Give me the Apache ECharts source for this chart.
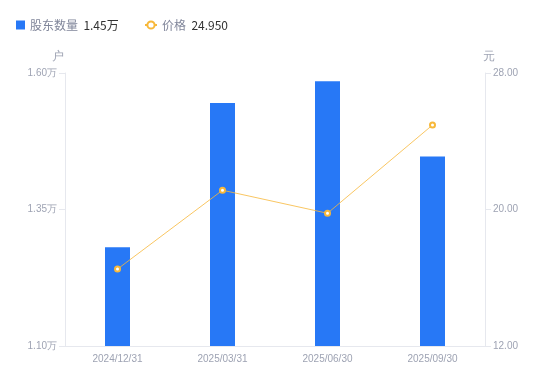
<!DOCTYPE html>
<html>
<head>
<meta charset="utf-8">
<script src="https://cdn.jsdelivr.net/npm/echarts@6/dist/echarts.min.js"></script>
<style>
  html, body { margin: 0; padding: 0; background: #fff; }
  #main { width: 550px; height: 381px; }
</style>
</head>
<body>
<div id="main"></div>
<script>
var dates = ['2024/12/31', '2025/03/31', '2025/06/30', '2025/09/30'];
var holders = [1.281, 1.545, 1.585, 1.447];   // 万户
var prices = [16.51, 21.13, 19.78, 24.95];    // 元
var latest = { '股东数量': '1.45万', '价格': '24.950' };

var labelColor = '#9ea3b3';
var lineColor = '#e6e8ee';

function legendText(name) {
    return '{n|' + name + '}  {v|' + latest[name] + '}';
}
var legendTextStyle = {
    fontFamily: 'Noto Sans CJK SC',
    rich: {
        n: { color: '#80869a', fontSize: 12 },
        v: { color: '#333', fontSize: 12 }
    }
};

var myChart = echarts.init(document.getElementById('main'));
myChart.setOption({
    animation: false,
    legend: [
        {
            left: 11,
            top: 14,
            itemWidth: 9,
            itemHeight: 9,
            itemGap: 6,
            formatter: legendText,
            textStyle: legendTextStyle,
            data: [{ name: '股东数量', icon: 'rect' }]
        },
        {
            left: 139,
            top: 14,
            itemWidth: 12,
            itemHeight: 9,
            formatter: legendText,
            textStyle: legendTextStyle,
            data: ['价格']
        }
    ],
    grid: { left: 65, right: 65, top: 73, bottom: 35 },
    xAxis: {
        type: 'category',
        data: dates,
        axisLine: { lineStyle: { color: lineColor } },
        axisTick: { show: false },
        axisLabel: { color: labelColor, fontSize: 10, margin: 8 }
    },
    yAxis: [
        {
            type: 'value',
            name: '户',
            nameGap: 10,
            nameTextStyle: { color: labelColor, fontSize: 12, padding: [0, 0, 0, -14] },
            min: 1.10,
            max: 1.60,
            interval: 0.25,
            splitLine: { show: false },
            axisLine: { show: true, lineStyle: { color: lineColor } },
            axisTick: { show: true, length: 6, lineStyle: { color: lineColor } },
            axisLabel: {
                color: labelColor,
                fontSize: 10,
                margin: 8,
                formatter: function (v) { return v.toFixed(2) + '万'; }
            }
        },
        {
            type: 'value',
            name: '元',
            nameGap: 10,
            nameTextStyle: { color: labelColor, fontSize: 12, padding: [0, 0, 0, 8] },
            min: 12,
            max: 28,
            interval: 8,
            splitLine: { show: false },
            axisLine: { show: true, lineStyle: { color: lineColor } },
            axisTick: { show: true, length: 6, lineStyle: { color: lineColor } },
            axisLabel: {
                color: labelColor,
                fontSize: 10,
                margin: 8,
                formatter: function (v) { return v.toFixed(2); }
            }
        }
    ],
    series: [
        {
            name: '股东数量',
            type: 'bar',
            yAxisIndex: 0,
            barWidth: 25,
            itemStyle: { color: '#2778f6' },
            data: holders
        },
        {
            name: '价格',
            type: 'line',
            yAxisIndex: 1,
            symbol: 'emptyCircle',
            symbolSize: 5,
            itemStyle: { color: '#f7b83a', borderWidth: 1.5 },
            lineStyle: { color: '#f7b83a', width: 0.8 },
            data: prices
        }
    ]
});
</script>
</body>
</html>
